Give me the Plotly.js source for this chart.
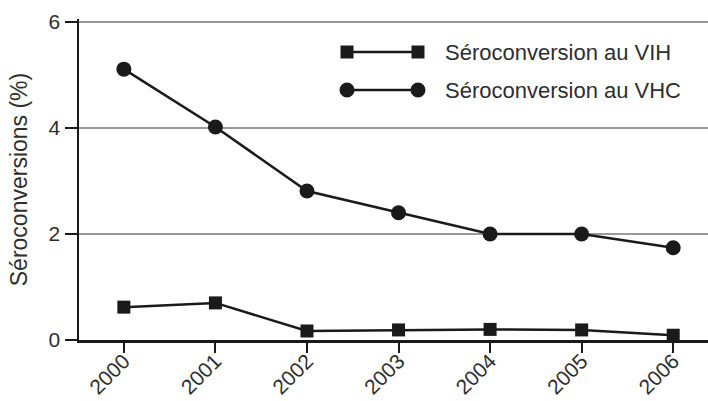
<!DOCTYPE html>
<html><head><meta charset="utf-8">
<script src="https://cdn.plot.ly/plotly-3.0.1.min.js"></script>
<style>html,body{margin:0;padding:0;background:#fff}#chart{width:708px;height:401px}</style>
</head><body><div id="chart"></div>
<script>
const years = [2000, 2001, 2002, 2003, 2004, 2005, 2006];
const vih = [0.62, 0.70, 0.17, 0.19, 0.20, 0.19, 0.09];
const vhc = [5.11, 4.02, 2.81, 2.40, 2.00, 2.00, 1.74];
const legendLabels = ['Séroconversion au VIH', 'Séroconversion au VHC'];
const yTicks = [0, 2, 4, 6];

const ink = '#1a1a1a';
const txt = '#2e2e2e';
const fam = 'Liberation Sans, Arial, sans-serif';
const traces = [
  {x: years, y: vih, mode: 'lines+markers', name: legendLabels[0],
   line: {color: ink, width: 2.5}, marker: {symbol: 'square', size: 13, color: ink}},
  {x: years, y: vhc, mode: 'lines+markers', name: legendLabels[1],
   line: {color: ink, width: 2.5}, marker: {symbol: 'circle', size: 15, color: ink}}
];

const T = 19, B = 61;
// custom legend (two-ended symbols) in paper coordinates
const W = 708 - 79, H = 401 - B - T;
const px = x => (x - 79) / W, py = y => (340 - y) / H;
const shapes = [];
const annotations = [];
[[52, 'square'], [90, 'circle']].forEach(([yy, sym], i) => {
  shapes.push({type: 'line', xref: 'paper', yref: 'paper', x0: px(347), x1: px(418), y0: py(yy), y1: py(yy), line: {color: ink, width: 2.5}});
  [347, 418].forEach(cx => {
    const r = sym === 'square' ? 6.5 : 7.5;
    shapes.push({type: sym === 'square' ? 'rect' : 'circle', xref: 'paper', yref: 'paper',
      x0: px(cx - r), x1: px(cx + r), y0: py(yy + r), y1: py(yy - r),
      fillcolor: ink, line: {color: ink, width: 0}});
  });
  annotations.push({xref: 'paper', yref: 'paper', x: px(443), y: py(yy), xanchor: 'left', yanchor: 'middle',
    text: legendLabels[i], showarrow: false, font: {family: fam, size: 22, color: txt}});
});

const layout = {
  width: 708, height: 401,
  margin: {l: 79, r: 0, t: T, b: B},
  paper_bgcolor: '#fff', plot_bgcolor: '#fff',
  showlegend: false,
  font: {family: fam, size: 22, color: txt},
  xaxis: {
    range: [1999.51, 2006.38], tickvals: years, ticktext: years.map(String),
    tickangle: -45, ticks: 'outside', ticklen: 10, tickwidth: 2, tickcolor: ink,
    showline: true, linecolor: ink, linewidth: 2.5, showgrid: false, zeroline: false,
    tickfont: {size: 21, color: txt}, automargin: false, ticklabelstandoff: -12
  },
  yaxis: {
    range: [0, (401 - B - T) / 53], tickvals: yTicks, ticks: 'outside', ticklen: 12, tickwidth: 2, tickcolor: ink,
    showline: true, linecolor: ink, linewidth: 2.5, showgrid: true, gridcolor: '#9a9a9a', gridwidth: 1.5,
    zeroline: false, tickfont: {size: 21, color: txt}, automargin: false,
    title: {text: 'Séroconversions (%)', font: {size: 23, color: txt}, standoff: 15}
  },
  shapes: shapes, annotations: annotations
};
Plotly.newPlot('chart', traces, layout, {staticPlot: true});
</script></body></html>
